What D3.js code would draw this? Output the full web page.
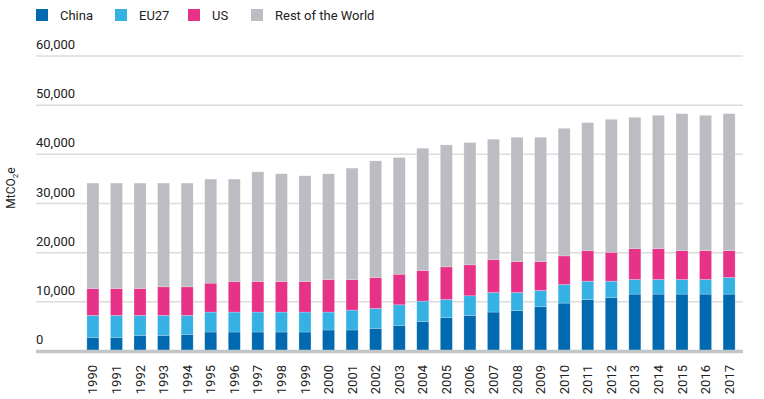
<!DOCTYPE html>
<html>
<head>
<meta charset="utf-8">
<script src="https://cdn.jsdelivr.net/npm/d3@7"></script>
<style>
  body { margin: 0; background: #fff; }
  text { font-family: Roboto, "Liberation Sans", sans-serif; fill: #222; }
</style>
</head>
<body>
<div id="chart"></div>
<script>
// Data (MtCO2e)
let years = [1990, 1991, 1992, 1993, 1994, 1995, 1996, 1997, 1998, 1999,
  2000, 2001, 2002, 2003, 2004, 2005, 2006, 2007, 2008, 2009,
  2010, 2011, 2012, 2013, 2014, 2015, 2016, 2017];

let china = [2780, 2780, 3180, 3180, 3390, 3860, 3860, 3860, 3860, 3860,
  4270, 4270, 4600, 5210, 6020, 6770, 7240, 7920, 8250, 9000,
  9740, 10490, 10890, 11570, 11570, 11570, 11570, 11570];

let eu27 = [4460, 4460, 4060, 4060, 3850, 4060, 4060, 4060, 4060, 4060,
  3650, 4050, 4060, 4190, 4130, 3720, 3990, 3980, 3650, 3310,
  3790, 3710, 3310, 2970, 2970, 2970, 2970, 3380];

let us = [5480, 5480, 5480, 5810, 5810, 5880, 6220, 6220, 6220, 6220,
  6620, 6220, 6290, 6220, 6220, 6620, 6290, 6700, 6290, 5880,
  5810, 6220, 5880, 6290, 6290, 5880, 5880, 5470];

let rest = [21430, 21430, 21430, 21100, 21100, 21160, 20820, 22300, 21900, 21490,
  21500, 22650, 23720, 23730, 24870, 24810, 24870, 24470, 25280, 25280,
  25960, 26030, 27040, 26700, 27110, 27850, 27520, 27850];

let seriesNames = ["China", "EU27", "US", "Rest of the World"];
let seriesColors = ["#0069b0", "#35b1e4", "#e63387", "#bcbdc2"];
let yTicks = [0, 10000, 20000, 30000, 40000, 50000, 60000];

// SVG area
let svgWidth = 764;
let svgHeight = 399;

let svg = d3.select("#chart")
  .append("svg")
  .attr("width", svgWidth)
  .attr("height", svgHeight);

// build a table for d3.stack
let table = years.map((y, i) => ({
  year: y,
  "China": china[i],
  "EU27": eu27[i],
  "US": us[i],
  "Rest of the World": rest[i]
}));

let stacked = d3.stack().keys(seriesNames)(table);

let xScale = d3.scaleBand()
  .domain(years)
  .range([81, 741])
  .paddingInner(0.49)
  .paddingOuter(0.25);

let yScale = d3.scaleLinear()
  .domain([0, 60000])
  .range([351, 56]);

// gridlines
svg.append("g")
  .selectAll("line")
  .data(yTicks.filter(d => d > 0))
  .enter()
  .append("line")
  .attr("x1", 36)
  .attr("x2", 743)
  .attr("y1", d => yScale(d))
  .attr("y2", d => yScale(d))
  .attr("stroke", "#dcdcdc")
  .attr("stroke-width", 1.5);

// y tick labels sit above the gridlines
svg.append("g")
  .selectAll("text")
  .data(yTicks)
  .enter()
  .append("text")
  .attr("x", 36)
  .attr("y", d => yScale(d) - 7)
  .attr("font-size", 13)
  .text(d => d3.format(",")(d));

// bars
let layers = svg.append("g")
  .selectAll("g")
  .data(stacked)
  .enter()
  .append("g")
  .attr("fill", (d, i) => seriesColors[i]);

layers.selectAll("rect")
  .data(d => d)
  .enter()
  .append("rect")
  .attr("x", d => xScale(d.data.year))
  .attr("y", d => yScale(d[1]))
  .attr("width", xScale.bandwidth())
  .attr("height", d => yScale(d[0]) - yScale(d[1]))
  .attr("stroke", "#ffffff")
  .attr("stroke-opacity", 0.35)
  .attr("stroke-width", 0.6);

// baseline
svg.append("line")
  .attr("x1", 36)
  .attr("x2", 743)
  .attr("y1", yScale(0) + 0.5)
  .attr("y2", yScale(0) + 0.5)
  .attr("stroke", "#c2c6c6")
  .attr("stroke-width", 3.5);

// x axis labels, rotated
let xAxis = d3.axisBottom(xScale).tickSize(0).tickPadding(0);
let xg = svg.append("g")
  .attr("transform", `translate(0, ${yScale(0)})`)
  .call(xAxis);
xg.select(".domain").remove();
xg.selectAll("text")
  .attr("font-size", 13)
  .attr("font-family", "Roboto, 'Liberation Sans', sans-serif")
  .attr("fill", "#222")
  .attr("text-anchor", "end")
  .attr("dy", "0.35em")
  .attr("transform", "translate(0, 14) rotate(-90)")
  .attr("x", 0)
  .attr("y", 0);

// y axis title
let yTitle = svg.append("text")
  .attr("transform", "translate(15, 188) rotate(-90)")
  .attr("text-anchor", "middle")
  .attr("font-size", 12);
yTitle.append("tspan").text("MtCO");
yTitle.append("tspan").attr("font-size", 8).attr("dy", 3).text("2");
yTitle.append("tspan").attr("dy", -3).text("e");

// legend
let legendX = [36, 115, 188, 251];
let legend = svg.append("g")
  .selectAll("g")
  .data(seriesNames)
  .enter()
  .append("g")
  .attr("transform", (d, i) => `translate(${legendX[i]}, 9)`);

legend.append("rect")
  .attr("width", 12)
  .attr("height", 12)
  .attr("fill", (d, i) => seriesColors[i]);

legend.append("text")
  .attr("x", 24)
  .attr("y", 11)
  .attr("font-size", 13)
  .text(d => d);
</script>
</body>
</html>
